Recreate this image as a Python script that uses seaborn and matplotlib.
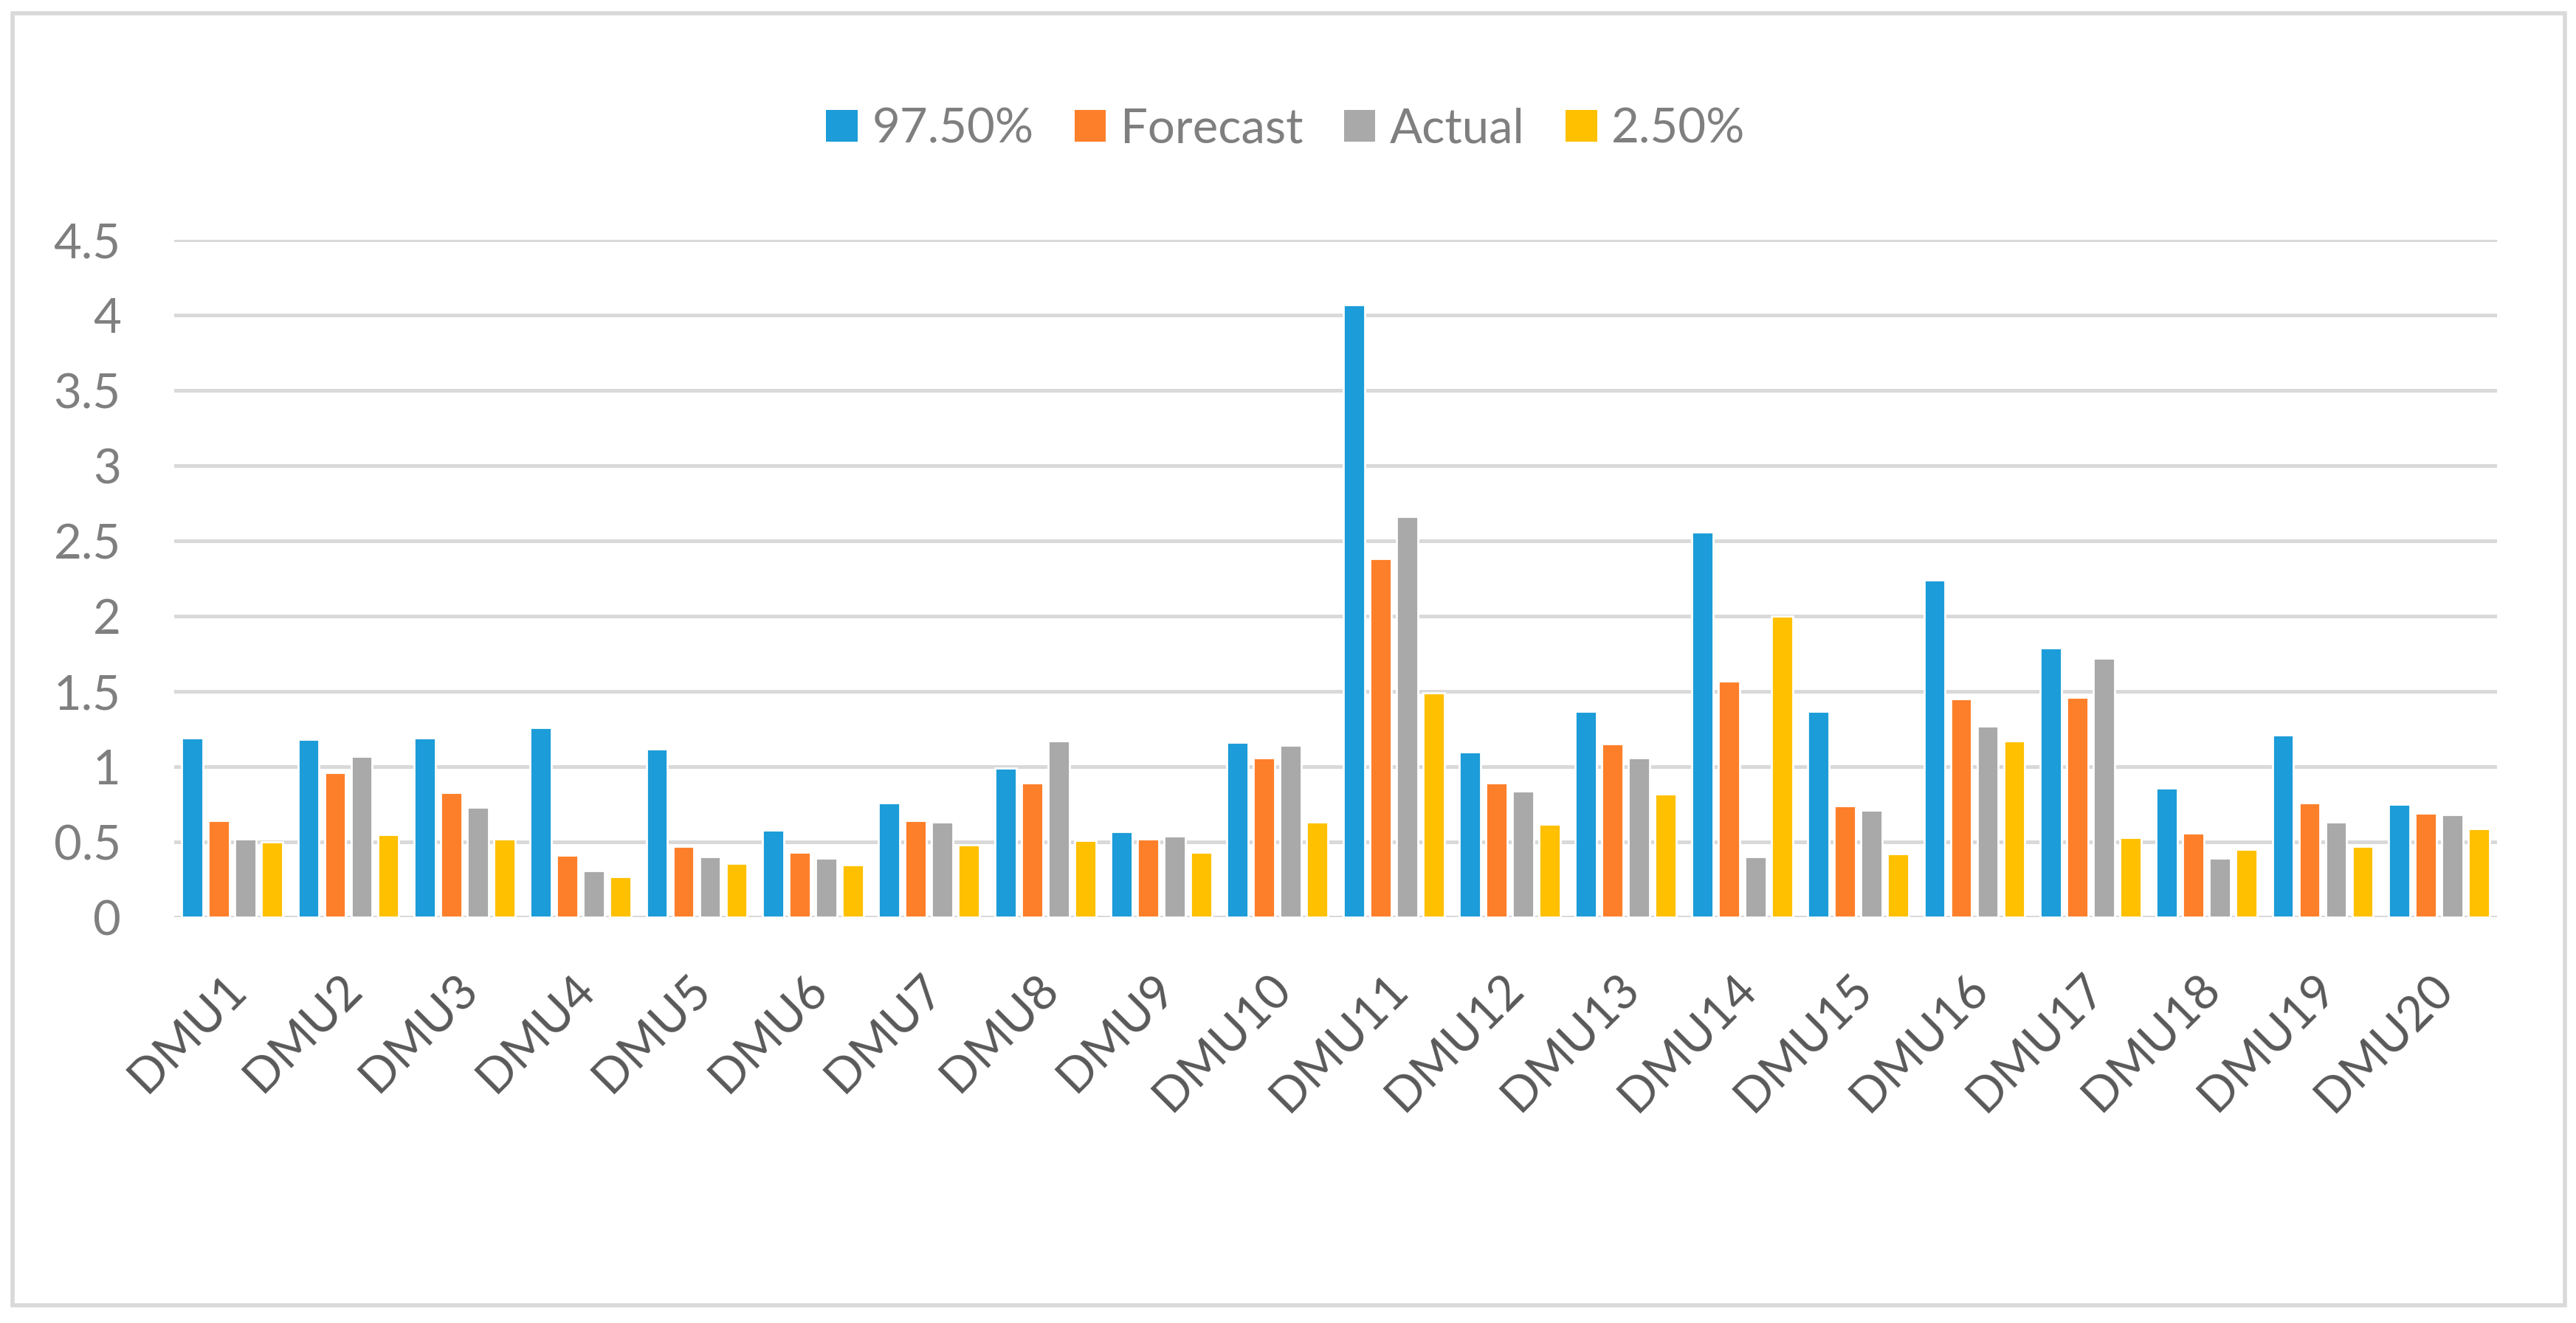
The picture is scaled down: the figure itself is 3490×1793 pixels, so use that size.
import numpy as np
import pandas as pd
import matplotlib
matplotlib.use("Agg")
import matplotlib.pyplot as plt
import matplotlib.transforms as mtransforms
from matplotlib.patches import Rectangle, Patch
import seaborn as sns

# Datos
dmus = ["DMU" + str(i) for i in range(1, 21)]
series = ["97.50%", "Forecast", "Actual", "2.50%"]
upper = [1.19, 1.18, 1.19, 1.26, 1.12, 0.58, 0.76, 0.99, 0.57, 1.16,
         4.07, 1.10, 1.37, 2.56, 1.37, 2.24, 1.79, 0.86, 1.21, 0.75]
forecast = [0.64, 0.96, 0.83, 0.41, 0.47, 0.43, 0.64, 0.89, 0.52, 1.06,
            2.38, 0.89, 1.15, 1.57, 0.74, 1.45, 1.46, 0.56, 0.76, 0.69]
actual = [0.52, 1.07, 0.73, 0.31, 0.40, 0.39, 0.63, 1.17, 0.54, 1.14,
          2.66, 0.84, 1.06, 0.40, 0.71, 1.27, 1.72, 0.39, 0.63, 0.68]
lower = [0.50, 0.55, 0.52, 0.27, 0.36, 0.35, 0.48, 0.51, 0.43, 0.63,
         1.49, 0.62, 0.82, 2.00, 0.42, 1.17, 0.53, 0.45, 0.47, 0.59]
colores = ["#1C9CD8", "#FE7F2A", "#A9A9A9", "#FFC000"]

df = pd.DataFrame({
    "dmu": dmus * 4,
    "serie": np.repeat(series, len(dmus)),
    "valor": upper + forecast + actual + lower,
})

sns.set_theme(style="white")
plt.rcParams["font.family"] = ["Lato", "DejaVu Sans"]

DPI = 200
fig = plt.figure(figsize=(3491 / DPI, 1793 / DPI), dpi=DPI)
ax = fig.add_axes([236 / 3491, 1 - 1243 / 1793, (3383 - 236) / 3491, (1243 - 325) / 1793])

sns.barplot(data=df, x="dmu", y="valor", hue="serie", hue_order=series,
            palette=colores, width=0.915, gap=0.2, saturation=1,
            ax=ax, legend=False)

ax.set_ylim(0, 4.5)
ax.set_yticks(np.arange(0, 4.51, 0.5))
ax.set_yticklabels(["0", "0.5", "1", "1.5", "2", "2.5", "3", "3.5", "4", "4.5"])
ax.set_xlabel("")
ax.set_ylabel("")
ax.set_axisbelow(True)
ax.yaxis.grid(True, color="#D9D9D9", linewidth=1.8)
ax.xaxis.grid(False)
for s in ax.spines.values():
    s.set_visible(False)

ax.tick_params(axis="y", length=0, pad=26, labelsize=23.5, labelcolor="#7F7F7F")
ax.tick_params(axis="x", length=0, pad=24, labelsize=23.5, labelcolor="#595959")
desplazamiento = mtransforms.ScaledTranslation(-4.5 / 72, 0, fig.dpi_scale_trans)
for lab in ax.get_xticklabels():
    lab.set_rotation(45)
    lab.set_ha("right")
    lab.set_va("top")
    lab.set_rotation_mode("anchor")
    lab.set_transform(lab.get_transform() + desplazamiento)

handles = [Patch(facecolor=c, edgecolor="none") for c in colores]
fig.legend(handles, series, loc="center", bbox_to_anchor=(0.499, 1 - 175 / 1793),
           ncol=4, frameon=False, fontsize=23.5, labelcolor="#7F7F7F",
           handlelength=0.65, handleheight=0.65, handletextpad=0.3,
           columnspacing=0.85)

# Marco exterior
fig.patches.append(Rectangle((17 / 3491, 1 - 1769 / 1793), (3475 - 17) / 3491,
                             (1769 - 18) / 1793, transform=fig.transFigure,
                             fill=False, edgecolor="#D9D9D9", linewidth=2))

fig.savefig("out.png", dpi=DPI, facecolor="white")
